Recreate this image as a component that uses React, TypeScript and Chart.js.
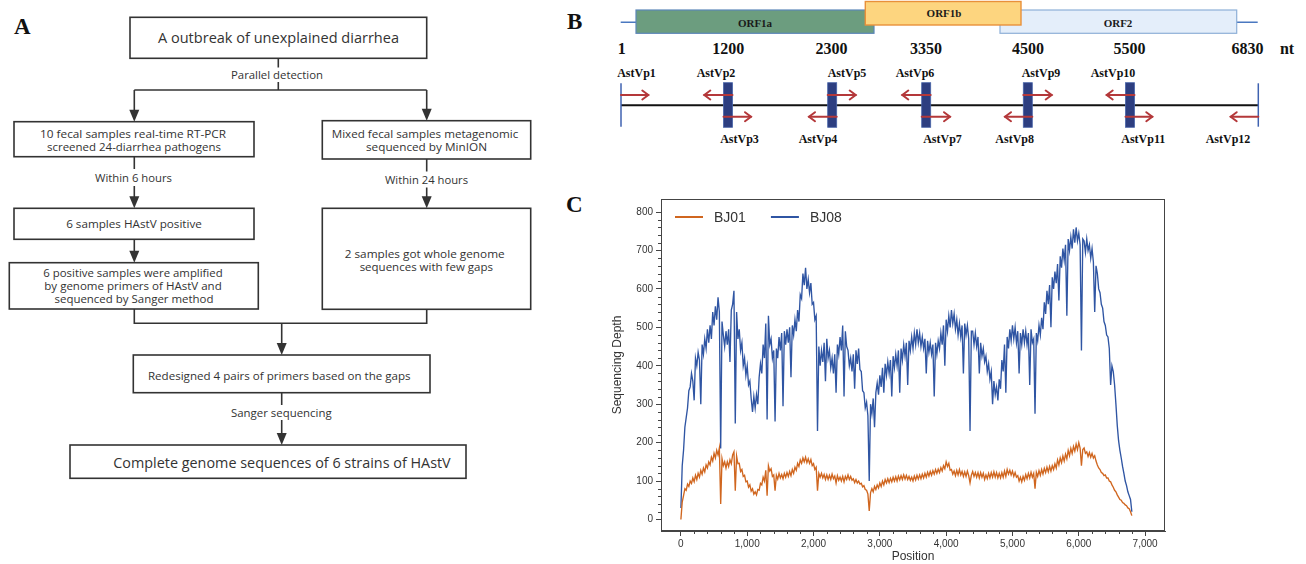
import React, { useEffect, useRef } from "react";
import { Chart, registerables } from "chart.js";

Chart.register(...registerables);

// ---------------- Panel C data (sequencing depth, sampled every 20 nt) ----------------
const SAMPLE_STEP_NT = 20;
const seriesNames = ["BJ01", "BJ08"];
const seriesColors = ["#d0661f", "#2f55a3"];

const bj01Depth = [
  0, 45, 62, 80, 76, 92, 86, 100, 94, 108, 98, 115, 104, 120, 110, 128, 118, 134, 124, 142,
  134, 150, 142, 162, 152, 172, 160, 180, 168, 186, 40, 158, 140, 150, 134, 150, 138, 155, 145, 168,
  176, 75, 165, 145, 146, 125, 130, 112, 115, 98, 100, 84, 90, 74, 80, 66, 72, 64, 78, 76,
  94, 90, 110, 100, 128, 62, 140, 126, 132, 112, 116, 75, 115, 105, 120, 108, 117, 106, 120, 110,
  122, 112, 125, 114, 130, 120, 136, 128, 146, 138, 155, 146, 160, 150, 162, 148, 158, 146, 156, 140,
  145, 130, 136, 75, 120, 110, 120, 108, 117, 104, 116, 104, 115, 104, 118, 106, 113, 95, 114, 102,
  110, 100, 112, 98, 112, 104, 116, 104, 112, 102, 106, 96, 104, 95, 100, 92, 94, 85, 88, 78,
  76, 66, 22, 70, 80, 72, 86, 78, 90, 82, 95, 86, 100, 90, 104, 95, 106, 96, 107, 98,
  110, 100, 111, 100, 113, 103, 114, 104, 116, 105, 115, 104, 112, 102, 110, 100, 113, 103, 115, 105,
  116, 106, 118, 108, 120, 110, 123, 113, 125, 115, 127, 118, 130, 120, 131, 122, 135, 126, 140, 132,
  150, 138, 146, 128, 130, 118, 126, 114, 128, 116, 130, 116, 125, 112, 124, 112, 126, 114, 95, 115,
  125, 112, 122, 110, 122, 108, 122, 110, 120, 104, 116, 106, 120, 108, 122, 110, 124, 110, 122, 108,
  120, 108, 122, 110, 126, 112, 130, 118, 128, 116, 126, 112, 122, 110, 114, 100, 110, 98, 112, 102,
  117, 106, 120, 108, 123, 110, 120, 80, 123, 112, 127, 115, 130, 118, 133, 122, 136, 124, 138, 126,
  140, 130, 145, 134, 155, 142, 160, 148, 165, 152, 170, 158, 180, 166, 185, 172, 190, 178, 196, 182,
  200, 186, 140, 182, 186, 172, 176, 164, 174, 162, 172, 160, 166, 152, 142, 134, 130, 122, 120, 114,
  116, 108, 108, 100, 98, 90, 84, 76, 72, 64, 58, 52, 50, 44, 42, 38, 36, 30, 28, 20,
  10,
];

const bj08Depth = [
  30, 140, 180, 240, 265, 290, 335, 345, 380, 360, 310, 420, 400, 435, 415, 300, 455, 430, 470, 445,
  495, 460, 505, 470, 540, 505, 555, 520, 578, 540, 185, 515, 480, 450, 490, 455, 495, 410, 545, 560,
  595, 250, 540, 470, 495, 440, 460, 400, 420, 375, 400, 350, 360, 315, 280, 320, 290, 325, 300, 370,
  405, 380, 455, 420, 510, 260, 530, 455, 470, 420, 440, 255, 445, 420, 475, 440, 485, 295, 490, 455,
  495, 460, 500, 370, 505, 480, 520, 490, 545, 515, 585, 575, 640, 610, 655, 600, 625, 590, 615, 560,
  565, 520, 530, 230, 450, 400, 440, 410, 460, 360, 470, 420, 440, 395, 420, 380, 430, 330, 455, 430,
  475, 440, 505, 320, 490, 450, 440, 400, 420, 385, 430, 340, 440, 405, 445, 390, 385, 335, 330, 290,
  305, 270, 100, 300, 275, 315, 240, 330, 355, 325, 375, 345, 395, 330, 405, 375, 410, 380, 415, 320,
  425, 395, 430, 400, 440, 330, 445, 415, 455, 425, 460, 350, 465, 440, 475, 445, 485, 455, 495, 460,
  485, 450, 475, 445, 470, 380, 465, 435, 460, 430, 455, 320, 460, 430, 465, 445, 485, 455, 505, 400,
  520, 490, 530, 500, 545, 510, 535, 495, 520, 480, 510, 475, 505, 380, 510, 480, 505, 470, 230, 490,
  490, 455, 485, 450, 475, 380, 460, 425, 445, 410, 425, 385, 405, 365, 385, 300, 360, 325, 345, 310,
  365, 340, 415, 385, 455, 330, 475, 445, 495, 465, 505, 470, 500, 460, 490, 380, 485, 455, 495, 460,
  490, 455, 485, 350, 495, 460, 470, 275, 485, 465, 505, 480, 525, 495, 565, 535, 595, 560, 610, 500,
  630, 600, 645, 615, 665, 570, 685, 655, 705, 675, 715, 530, 730, 700, 735, 705, 755, 720, 760, 725,
  745, 715, 440, 730, 725, 695, 730, 700, 715, 680, 705, 670, 540, 660, 640, 600, 590, 560, 550, 515,
  505, 480, 475, 445, 350, 400, 385, 350, 300, 245, 205, 180, 160, 138, 120, 100, 88, 72, 62, 52,
  20,
];

const xTickValues = [0, 1000, 2000, 3000, 4000, 5000, 6000, 7000];
const yTickValues = [0, 100, 200, 300, 400, 500, 600, 700, 800];
const X_MIN = -300;
const X_MAX = 7300;
const X_MINOR = 200;
const Y_MIN = -30;
const Y_MAX = 834;
const Y_MINOR = 20;

// ---------------- Panel B data ----------------
const genomeTickLabels = ["1", "1200", "2300", "3350", "4500", "5500", "6830"];
const genomeTickX = [621.7, 728.3, 831.5, 926, 1028, 1129.5, 1247.5];
const siteX = [621, 728, 832.2, 926.2, 1027.8, 1130, 1258.3];
const primerNames = ["AstVp1", "AstVp2", "AstVp3", "AstVp4", "AstVp5", "AstVp6", "AstVp7", "AstVp8", "AstVp9", "AstVp10", "AstVp11", "AstVp12"];
const primerSite = [0, 1, 1, 2, 2, 3, 3, 4, 4, 5, 5, 6];
const primerDir = [1, -1, 1, -1, 1, -1, 1, -1, 1, -1, 1, -1];
const primerRow = ["up", "up", "down", "down", "up", "up", "down", "down", "up", "up", "down", "down"];
const primerLabelX = [636.5, 716, 739.5, 818, 847, 915, 942.5, 1014.7, 1041, 1113, 1143.3, 1228];
const primerArrowEnd = [648.3, 704.3, 751, 809, 855.7, 902.3, 950, 1005, 1051.7, 1106.7, 1152.3, 1230.7];

const FLOW_FONT = "'Open Sans', 'Noto Sans', sans-serif";
const SERIF = "'Liberation Serif', 'DejaVu Serif', serif";
const SANS = "'Liberation Sans', Arial, sans-serif";
const LINE = "#333";

function FT({ x, y, w, size = 11, children }: any) {
  return (
    <text x={x} y={y} textLength={w} lengthAdjust="spacingAndGlyphs" textAnchor="middle"
      fontFamily={FLOW_FONT} fontSize={size} fill="#333">{children}</text>
  );
}

function Box({ x, y, w, h }: any) {
  return <rect x={x} y={y} width={w} height={h} fill="#fff" stroke={LINE} strokeWidth={1.6} />;
}

function VLine({ x, y1, y2 }: any) {
  return <line x1={x} y1={y1} x2={x} y2={y2} stroke={LINE} strokeWidth={1.6} />;
}

function ArrowDown({ x, y1, y2 }: any) {
  return (
    <g>
      <line x1={x} y1={y1} x2={x} y2={y2 - 10} stroke={LINE} strokeWidth={1.6} />
      <polygon points={`${x - 5},${y2 - 12} ${x + 5},${y2 - 12} ${x},${y2}`} fill={LINE} />
    </g>
  );
}

function PrimerArrow({ x1, x2, y }: any) {
  const d = x2 > x1 ? 1 : -1;
  return (
    <g stroke="#b4383a" strokeWidth={2} fill="none" strokeLinecap="round">
      <line x1={x1} y1={y} x2={x2} y2={y} />
      <polyline points={`${x2 - d * 6},${y - 4.5} ${x2},${y} ${x2 - d * 6},${y + 4.5}`} />
    </g>
  );
}

function Diagram() {
  return (
    <svg width={1306} height={564} style={{ position: "absolute", left: 0, top: 0 }}>
      {/* ---------- Panel A ---------- */}
      <text x={14} y={34} fontFamily={SERIF} fontWeight="bold" fontSize={23} fill="#111">A</text>

      <Box x={130} y={17.3} w={296.7} h={41} />
      <FT x={278.5} y={43} w={241} size={15}>A outbreak of unexplained diarrhea</FT>

      <VLine x={278.3} y1={58.3} y2={67.5} />
      <FT x={277} y={79} w={92} size={11}>Parallel detection</FT>
      <VLine x={278.3} y1={82} y2={90} />
      <line x1={134.3} y1={90} x2={426.7} y2={90} stroke={LINE} strokeWidth={1.6} />
      <ArrowDown x={134.3} y1={90} y2={121.7} />
      <ArrowDown x={426.7} y1={90} y2={120.7} />

      <Box x={14} y={121.7} w={240} h={35} />
      <FT x={133} y={137.5} w={186}>10 fecal samples real-time RT-PCR</FT>
      <FT x={134} y={151} w={174}>screened 24-diarrhea pathogens</FT>

      <Box x={322.3} y={120.7} w={208.4} h={38.3} />
      <FT x={425} y={137.5} w={186.6}>Mixed fecal samples metagenomic</FT>
      <FT x={426.5} y={150.5} w={121}>sequenced by  MinION</FT>

      <VLine x={134.3} y1={156.7} y2={169} />
      <FT x={133.5} y={181.5} w={77}>Within 6 hours</FT>
      <ArrowDown x={134.3} y1={186} y2={208.3} />

      <VLine x={426.7} y1={159} y2={171.5} />
      <FT x={426.5} y={184} w={83}>Within 24 hours</FT>
      <ArrowDown x={426.7} y1={187.5} y2={208.3} />

      <Box x={14} y={208.3} w={240} h={31} />
      <FT x={134} y={228} w={135.7}>6 samples HAstV positive</FT>
      <ArrowDown x={134.3} y1={239.3} y2={262.7} />

      <Box x={9.3} y={262.7} w={249} h={46.3} />
      <FT x={133} y={276.5} w={179.4}>6 positive samples were amplified</FT>
      <FT x={133} y={289.5} w={177.4}>by genome primers of HAstV and</FT>
      <FT x={134} y={302.5} w={159}>sequenced by Sanger method</FT>

      <Box x={322.3} y={208.3} w={208.4} h={101} />
      <FT x={424.7} y={257.5} w={160}>2 samples got whole genome</FT>
      <FT x={426.3} y={271} w={133.3}>sequences with few gaps</FT>

      <polyline points="134.3,309 134.3,323.3 426.7,323.3 426.7,309.3" fill="none" stroke={LINE} strokeWidth={1.6} />
      <ArrowDown x={281.7} y1={323.3} y2={355} />

      <Box x={133.3} y={355} w={296.7} h={37.7} />
      <FT x={279.3} y={379.5} w={262.7}>Redesigned 4 pairs of primers based on the gaps</FT>

      <VLine x={281.7} y1={392.7} y2={405} />
      <FT x={281.3} y={417} w={100.7}>Sanger sequencing</FT>
      <ArrowDown x={281.7} y1={420} y2={445} />

      <Box x={70} y={445} w={396} h={33.3} />
      <FT x={282} y={467.5} w={337.4} size={15}>Complete genome sequences of 6 strains of HAstV</FT>

      {/* ---------- Panel B ---------- */}
      <text x={567} y={29} fontFamily={SERIF} fontWeight="bold" fontSize={23} fill="#111">B</text>

      <line x1={620.7} y1={22.3} x2={1257.7} y2={22.3} stroke="#4a78c0" strokeWidth={1.5} />
      <rect x={636} y={10} width={238} height={23.3} fill="#6c9d7f" stroke="#5b86b8" strokeWidth={1.2} />
      <rect x={1000} y={10} width={236.7} height={23.3} fill="#e4eefa" stroke="#8eb0d8" strokeWidth={1.2} />
      <rect x={865.3} y={1.5} width={155.7} height={23.5} fill="#fdd57f" stroke="#e8903a" strokeWidth={1.4} />
      <text x={755} y={27} textAnchor="middle" fontFamily={SERIF} fontWeight="bold" fontSize={11} fill="#1a1a1a">ORF1a</text>
      <text x={944} y={17} textAnchor="middle" fontFamily={SERIF} fontWeight="bold" fontSize={11} fill="#1a1a1a">ORF1b</text>
      <text x={1118} y={27} textAnchor="middle" fontFamily={SERIF} fontWeight="bold" fontSize={11} fill="#1a1a1a">ORF2</text>

      {genomeTickLabels.map((t, i) => (
        <text key={t} x={genomeTickX[i]} y={54} textAnchor="middle" fontFamily={SERIF} fontWeight="bold" fontSize={16} fill="#111">{t}</text>
      ))}
      <text x={1287} y={54} textAnchor="middle" fontFamily={SERIF} fontWeight="bold" fontSize={16} fill="#111">nt</text>

      <line x1={621} y1={105.3} x2={1258.3} y2={105.3} stroke="#111" strokeWidth={2} />
      <line x1={621} y1={83.3} x2={621} y2={126.7} stroke="#3f62b0" strokeWidth={1.5} />
      <line x1={1258.3} y1={83.3} x2={1258.3} y2={126.7} stroke="#3f62b0" strokeWidth={1.5} />
      {siteX.slice(1, 6).map((x) => (
        <rect key={x} x={x - 4.5} y={82.7} width={9} height={44.6} fill="#2d3e80" stroke="#4864a8" strokeWidth={0.8} />
      ))}
      {primerNames.map((n, i) => {
        const sx = siteX[primerSite[i]];
        const inner = primerSite[i] === 0 || primerSite[i] === 6 ? 0 : 4.5;
        const start = sx - primerDir[i] * inner;
        const y = primerRow[i] === "up" ? 95 : 116.7;
        return <PrimerArrow key={n} x1={start} x2={primerArrowEnd[i]} y={y} />;
      })}
      {primerNames.map((n, i) => (
        <text key={n} x={primerLabelX[i]} y={primerRow[i] === "up" ? 77 : 142.5} textAnchor="middle"
          fontFamily={SERIF} fontWeight="bold" fontSize={12} fill="#111">{n}</text>
      ))}

      {/* ---------- Panel C label ---------- */}
      <text x={566} y={212} fontFamily={SERIF} fontWeight="bold" fontSize={23} fill="#111">C</text>
    </svg>
  );
}

function DepthChart() {
  const ref = useRef<HTMLCanvasElement>(null);
  useEffect(() => {
    if (!ref.current) return;
    const positions = bj08Depth.map((_, i) => i * SAMPLE_STEP_NT);
    const seriesValues = [bj01Depth, bj08Depth];

    const frameMinorLegend = {
      id: "frameMinorLegend",
      afterDraw(chart: any) {
        const { ctx, chartArea: a, scales } = chart;
        ctx.save();
        ctx.strokeStyle = "#444";
        ctx.lineWidth = 1;
        ctx.strokeRect(Math.round(a.left) + 0.5, Math.round(a.top) + 0.5, Math.round(a.right - a.left) - 1, Math.round(a.bottom - a.top) - 1);
        ctx.beginPath();
        for (let v = 0; v <= xTickValues[xTickValues.length - 1]; v += X_MINOR) {
          if (xTickValues.includes(v)) continue;
          const px = Math.round(scales.x.getPixelForValue(v)) + 0.5;
          ctx.moveTo(px, a.bottom);
          ctx.lineTo(px, a.bottom + 3);
        }
        for (let v = 0; v <= yTickValues[yTickValues.length - 1]; v += Y_MINOR) {
          if (yTickValues.includes(v)) continue;
          const py = Math.round(scales.y.getPixelForValue(v)) + 0.5;
          ctx.moveTo(a.left, py);
          ctx.lineTo(a.left - 3, py);
        }
        ctx.stroke();

        // legend inside plot, top-left
        ctx.font = `14px ${SANS}`;
        ctx.textBaseline = "middle";
        ctx.textAlign = "left";
        let x = a.left + 14;
        const y = a.top + 18;
        chart.data.datasets.forEach((ds: any) => {
          ctx.strokeStyle = ds.borderColor;
          ctx.lineWidth = 2;
          ctx.beginPath();
          ctx.moveTo(x, y);
          ctx.lineTo(x + 28, y);
          ctx.stroke();
          ctx.fillStyle = "#333";
          ctx.fillText(ds.label, x + 39, y + 1);
          x += 39 + ctx.measureText(ds.label).width + 25;
        });
        ctx.restore();
      },
    };

    const chart = new Chart(ref.current, {
      type: "line",
      data: {
        datasets: seriesNames.map((name, k) => ({
          label: name,
          data: positions.map((p, i) => ({ x: p, y: seriesValues[k][i] })),
          borderColor: seriesColors[k],
          backgroundColor: seriesColors[k],
          borderWidth: 1.35,
          pointRadius: 0,
          tension: 0,
          fill: false,
        })),
      },
      options: {
        responsive: false,
        animation: false,
        layout: { padding: { left: 30, right: 15, top: 7, bottom: 0 } },
        plugins: {
          tooltip: { enabled: false },
          legend: { display: false },
        },
        scales: {
          x: {
            type: "linear",
            min: X_MIN,
            max: X_MAX,
            afterFit: (s: any) => { s.height = 33; },
            afterBuildTicks: (s: any) => { s.ticks = xTickValues.map((v) => ({ value: v })); },
            ticks: {
              autoSkip: false,
              maxRotation: 0,
              padding: 2,
              color: "#333",
              font: { size: 10, family: SANS },
              callback: (v: any) => Number(v).toLocaleString("en-US"),
            },
            grid: { drawOnChartArea: false, drawTicks: true, tickLength: 5, color: "#444" },
            border: { display: true, color: "#444" },
            title: { display: true, text: "Position", color: "#333", font: { size: 12, family: SANS }, padding: 0 },
          },
          y: {
            type: "linear",
            min: Y_MIN,
            max: Y_MAX,
            afterFit: (s: any) => { s.width = 51; },
            afterBuildTicks: (s: any) => { s.ticks = yTickValues.map((v) => ({ value: v })); },
            ticks: {
              autoSkip: false,
              padding: 3,
              color: "#333",
              font: { size: 10, family: SANS },
            },
            grid: { drawOnChartArea: false, drawTicks: true, tickLength: 5, color: "#444" },
            border: { display: true, color: "#444" },
            title: { display: true, text: "Sequencing Depth", color: "#333", font: { size: 12, family: SANS }, padding: 0 },
          },
        },
      },
      plugins: [frameMinorLegend],
    } as any);
    return () => chart.destroy();
  }, []);
  return (
    <canvas ref={ref} width={600} height={374}
      style={{ position: "absolute", left: 580, top: 190, width: 600, height: 374 }} />
  );
}

export default function App() {
  return (
    <div style={{ position: "absolute", left: 0, top: 0, width: 1306, height: 564, background: "#fff", overflow: "hidden" }}>
      <Diagram />
      <DepthChart />
    </div>
  );
}
